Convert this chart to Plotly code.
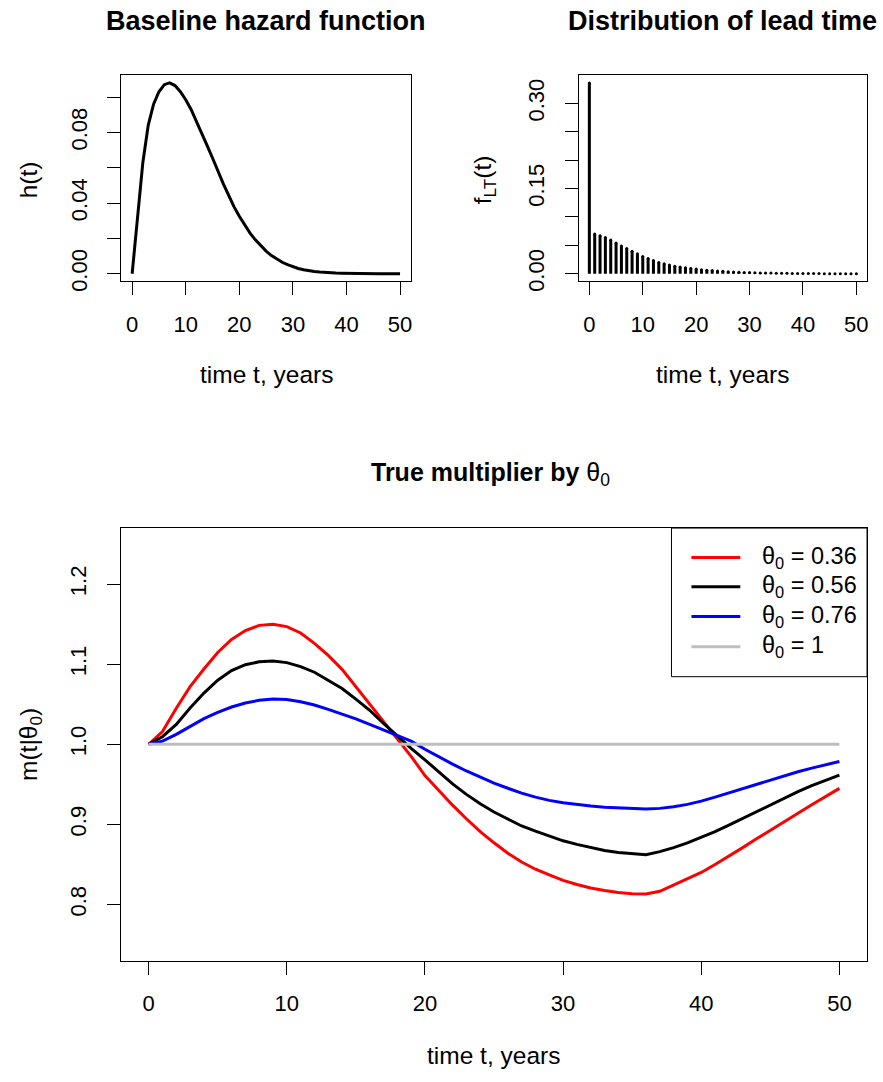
import plotly.graph_objects as go

# ---------------- data ----------------
t_years = list(range(51))

hazard = [0.0, 0.033, 0.063, 0.084, 0.096, 0.103, 0.107, 0.108, 0.1065, 0.103,
          0.0985, 0.093, 0.0865, 0.0795, 0.0725, 0.0655, 0.058, 0.051, 0.0445, 0.038,
          0.0325, 0.0275, 0.023, 0.0192, 0.0158, 0.0128, 0.0103, 0.0082, 0.0065, 0.0051,
          0.0039, 0.003, 0.0023, 0.0017, 0.0013, 0.001, 0.0007, 0.0005, 0.0004, 0.0003,
          0.0002, 0.00015, 0.0001, 0.00008, 0.00006, 0.00004, 0.00003, 0.00002, 0.00001,
          0.00001, 0.0]

lead_time_pmf = [0.336, 0.070, 0.067, 0.064, 0.0594, 0.054, 0.049, 0.0443, 0.0396, 0.035,
                 0.0303, 0.0268, 0.0233, 0.0198, 0.0175, 0.0152, 0.0134, 0.0117, 0.0105, 0.0093,
                 0.0082, 0.0072, 0.0063, 0.0055, 0.0048, 0.0042, 0.0036, 0.0031, 0.0027, 0.0023,
                 0.0020, 0.0017, 0.0015, 0.0013, 0.0011, 0.0009, 0.0008, 0.0007, 0.0006, 0.0005,
                 0.0004, 0.0004, 0.0003, 0.0003, 0.0002, 0.0002, 0.0002, 0.0001, 0.0001, 0.0001,
                 0.0001]

m_theta_036 = [1.000, 1.016, 1.045, 1.072, 1.094, 1.1147, 1.131, 1.142, 1.1485, 1.150,
               1.147, 1.139, 1.126, 1.111, 1.0936, 1.072, 1.050, 1.0285, 1.0074, 0.985,
               0.961, 0.942, 0.924, 0.907, 0.891, 0.877, 0.864, 0.853, 0.844, 0.837,
               0.830, 0.825, 0.8205, 0.8175, 0.815, 0.8135, 0.813, 0.8165, 0.824, 0.832,
               0.840, 0.850, 0.860, 0.871, 0.882, 0.893, 0.904, 0.914, 0.9245, 0.935,
               0.945]

m_theta_056 = [1.000, 1.0095, 1.0248, 1.0454, 1.064, 1.080, 1.092, 1.0994, 1.103, 1.104,
               1.102, 1.097, 1.090, 1.080, 1.0697, 1.0565, 1.0425, 1.026, 1.0103, 0.995,
               0.9806, 0.965, 0.9505, 0.9375, 0.9257, 0.9155, 0.9064, 0.898, 0.8915, 0.885,
               0.8795, 0.875, 0.871, 0.8675, 0.865, 0.8632, 0.8622, 0.866, 0.871, 0.877,
               0.8837, 0.891, 0.899, 0.9075, 0.9163, 0.9245, 0.9328, 0.9408, 0.9484, 0.955,
               0.9616]

m_theta_076 = [1.000, 1.004, 1.0124, 1.0227, 1.032, 1.040, 1.0466, 1.0516, 1.0549, 1.0565,
               1.056, 1.0532, 1.049, 1.0437, 1.038, 1.0318, 1.0248, 1.0177, 1.011, 1.004,
               0.9938, 0.984, 0.9752, 0.9667, 0.9587, 0.9515, 0.9451, 0.939, 0.934, 0.930,
               0.927, 0.9248, 0.9229, 0.9215, 0.9204, 0.9196, 0.9191, 0.920, 0.922, 0.925,
               0.929, 0.934, 0.9394, 0.945, 0.9505, 0.9557, 0.9608, 0.9657, 0.9703, 0.9745,
               0.9785]

m_theta_1 = [1.0, 1.0, 1.0, 1.0, 1.0, 1.0, 1.0, 1.0, 1.0, 1.0,
             1.0, 1.0, 1.0, 1.0, 1.0, 1.0, 1.0, 1.0, 1.0, 1.0,
             1.0, 1.0, 1.0, 1.0, 1.0, 1.0, 1.0, 1.0, 1.0, 1.0,
             1.0, 1.0, 1.0, 1.0, 1.0, 1.0, 1.0, 1.0, 1.0, 1.0,
             1.0, 1.0, 1.0, 1.0, 1.0, 1.0, 1.0, 1.0, 1.0, 1.0,
             1.0]

theta_labels = ["0.36", "0.56", "0.76", "1"]
theta_series = [m_theta_036, m_theta_056, m_theta_076, m_theta_1]
theta_colors = ["#FF0000", "#000000", "#0000FF", "#BEBEBE"]

x_ticks = [0, 10, 20, 30, 40, 50]
h_ticks = [0.0, 0.04, 0.08]
h_ticktext = ["0.00", "0.04", "0.08"]
h_minor_ticks = [0.02, 0.06, 0.10]
f_ticks = [0.0, 0.15, 0.30]
f_ticktext = ["0.00", "0.15", "0.30"]
f_minor_ticks = [0.05, 0.10, 0.20, 0.25, 0.35]
m_ticks = [0.8, 0.9, 1.0, 1.1, 1.2]
m_ticktext = ["0.8", "0.9", "1.0", "1.1", "1.2"]

# ---------------- layout helpers ----------------
W, H = 883, 1082
FONT = "Liberation Sans, Arial, Helvetica, sans-serif"


def px(x):
    return x / W


def py(y):
    return 1 - y / H


fig = go.Figure()

# panel 1: hazard
fig.add_trace(go.Scatter(x=t_years, y=hazard, mode="lines",
                         line=dict(color="black", width=3),
                         xaxis="x", yaxis="y", showlegend=False, hoverinfo="skip"))

# panel 2: lead time distribution (type = "h")
bx, by = [], []
for ti, v in zip(t_years, lead_time_pmf):
    bx += [ti, ti, None]
    by += [0, v, None]
fig.add_trace(go.Scatter(x=bx, y=by, mode="lines",
                         line=dict(color="black", width=3),
                         xaxis="x2", yaxis="y2", showlegend=False, hoverinfo="skip"))
fig.add_trace(go.Scatter(x=t_years, y=lead_time_pmf, mode="markers",
                         marker=dict(color="black", size=3, line=dict(width=0)),
                         xaxis="x2", yaxis="y2", showlegend=False, hoverinfo="skip"))

# panel 3: multipliers
for lab, ser, col in zip(theta_labels, theta_series, theta_colors):
    fig.add_trace(go.Scatter(x=t_years, y=ser, mode="lines",
                             line=dict(color=col, width=3),
                             xaxis="x3", yaxis="y3", showlegend=False,
                             name="θ0 = " + lab, hoverinfo="skip"))

axis_common = dict(showline=True, linecolor="black", linewidth=1, mirror=True,
                   ticks="outside", ticklen=13, tickwidth=1, tickcolor="black",
                   showgrid=False, zeroline=False,
                   tickfont=dict(family=FONT, size=22, color="black"))


def minor(vals):
    return dict(tickvals=vals, ticks="outside", ticklen=13, tickwidth=1,
                tickcolor="black", showgrid=False)


xstandoff = 10
ystandoff = 12

fig.update_layout(
    width=W, height=H,
    margin=dict(l=0, r=0, t=0, b=0, pad=0),
    paper_bgcolor="white", plot_bgcolor="white",
    showlegend=False,
    xaxis=dict(domain=[px(121.7), px(411.7)], range=[-2, 52], tickvals=x_ticks,
               anchor="y", ticklabelstandoff=xstandoff, **axis_common),
    yaxis=dict(domain=[py(284), py(76)], range=[-0.00432, 0.11232], tickvals=h_ticks,
               ticktext=h_ticktext, tickangle=-90, anchor="x", minor=minor(h_minor_ticks),
               ticklabelstandoff=ystandoff, **axis_common),
    xaxis2=dict(domain=[px(580), px(869)], range=[-2, 52], tickvals=x_ticks,
                anchor="y2", ticklabelstandoff=xstandoff, **axis_common),
    yaxis2=dict(domain=[py(284), py(76)], range=[-0.01344, 0.34944], tickvals=f_ticks,
                ticktext=f_ticktext, tickangle=-90, anchor="x2", minor=minor(f_minor_ticks),
                ticklabelstandoff=ystandoff, **axis_common),
    xaxis3=dict(domain=[px(121.3), px(869)], range=[-2, 52], tickvals=x_ticks,
                anchor="y3", ticklabelstandoff=xstandoff, **axis_common),
    yaxis3=dict(domain=[py(969.5), py(533)], range=[0.73, 1.27], tickvals=m_ticks,
                ticktext=m_ticktext, tickangle=-90, anchor="x3",
                ticklabelstandoff=ystandoff, **axis_common),
)

annotations = []


def add_text(text, x, y, size, angle=0, xanchor="center"):
    annotations.append(dict(text=text, x=px(x), y=py(y), xref="paper", yref="paper",
                            xanchor=xanchor, yanchor="middle", showarrow=False,
                            textangle=angle,
                            font=dict(family=FONT, size=size, color="black")))


# titles
add_text("<b>Baseline hazard function</b>", 266.7, 21.5, 27)
add_text("<b>Distribution of lead time</b>", 724.5, 21.5, 27)
add_text("<b>True multiplier by</b> θ<sub>0</sub>", 492, 478, 25)
# axis titles
add_text("time t, years", 266.7, 378, 24.5)
add_text("time t, years", 724.5, 378, 24.5)
add_text("time t, years", 495, 1065, 24.5)
add_text("h(t)", 28, 181, 24.5, angle=-90)
add_text("f<sub>LT</sub>(t)", 485, 181, 24.5, angle=-90)
add_text("m(t|θ<sub>0</sub>)", 30, 751, 24.5, angle=-90)

# legend
shapes = [dict(type="rect", xref="paper", yref="paper",
               x0=px(673), x1=px(869), y0=py(683), y1=py(533),
               line=dict(color="black", width=1), fillcolor="white", layer="above")]
rows_y = [562.7, 592.3, 622.3, 652.7]
for lab, col, ry in zip(theta_labels, theta_colors, rows_y):
    shapes.append(dict(type="line", xref="paper", yref="paper",
                       x0=px(693), x1=px(742), y0=py(ry), y1=py(ry),
                       line=dict(color=col, width=3), layer="above"))
    add_text("θ<sub>0</sub> = " + lab, 762, ry, 23.5, xanchor="left")

fig.update_layout(annotations=annotations, shapes=shapes)

fig.write_html("out.html", config={"displayModeBar": False},
               post_script="document.body.style.margin='0';")
